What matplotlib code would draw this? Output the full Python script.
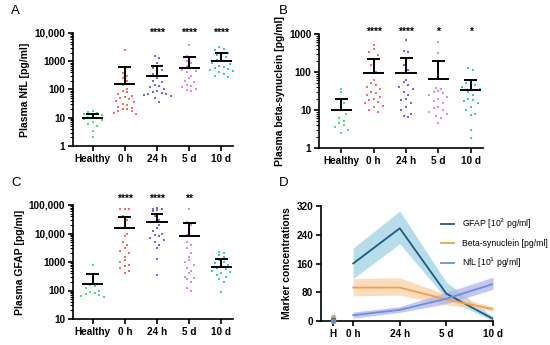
import numpy as np
import matplotlib.pyplot as plt
from matplotlib.ticker import LogLocator, FuncFormatter, NullFormatter

plt.rcParams['font.family'] = ['Liberation Sans', 'DejaVu Sans']

# === Data ===
groups = ["Healthy", "0 h", "24 h", "5 d", "10 d"]
colors = ["#3dd67a", "#f0605e", "#5b5bd6", "#d47ee0", "#2cbfc3"]

nfl_vals = [
    [17, 16, 15, 14, 13, 12, 11, 10, 9, 8, 7, 6, 5, 3.5, 2],
    [2500, 380, 300, 250, 200, 150, 100, 90, 80, 70, 60, 55, 50, 45, 40,
     35, 30, 28, 25, 22, 20, 20, 18, 17, 15, 14],
    [1500, 1300, 900, 700, 600, 500, 400, 350, 300, 250, 200, 180, 150, 130,
     120, 100, 90, 80, 75, 70, 70, 65, 60, 50, 35],
    [3800, 1500, 1400, 1000, 900, 700, 600, 500, 450, 400, 300, 250, 200,
     180, 150, 130, 120, 100, 95, 90],
    [3300, 2800, 2500, 2000, 1800, 1600, 1400, 1200, 1100, 1000, 900, 800,
     700, 650, 600, 550, 500, 450, 400, 350, 300, 280],
]
nfl_mean = [10, 160, 310, 600, 1050]
nfl_upper = [14, 620, 700, 1400, 1900]
nfl_stars = ["", "", "****", "****", "****"]

bsyn_vals = [
    [35, 30, 20, 15, 12, 10, 8, 6, 5, 4.5, 4, 3.5, 3, 2.5],
    [500, 400, 330, 280, 200, 150, 100, 60, 50, 45, 40, 35, 30, 28, 25, 22,
     20, 18, 16, 15, 13, 12, 10, 9],
    [680, 360, 340, 200, 150, 110, 60, 55, 45, 40, 35, 30, 25, 20, 18, 15,
     12, 10, 8, 7, 6.5],
    [600, 310, 38, 35, 32, 30, 28, 25, 22, 20, 17, 15, 12, 11, 10, 9, 8, 7,
     6, 4.5],
    [130, 110, 60, 55, 50, 45, 40, 35, 30, 25, 20, 18, 17, 15, 12, 10, 8,
     7.5, 3, 1.8],
]
bsyn_mean = [10, 93, 95, 65, 33]
bsyn_upper = [20, 220, 240, 200, 62]
bsyn_stars = ["", "****", "****", "*", "*"]

gfap_vals = [
    [800, 150, 140, 120, 100, 90, 80, 75, 70, 65, 60],
    [75000, 75000, 70000, 40000, 30000, 20000, 15000, 10000, 8000, 5000,
     4000, 3000, 2500, 2000, 1500, 1200, 1000, 800, 700, 600, 500, 400],
    [80000, 75000, 70000, 65000, 60000, 50000, 40000, 30000, 25000, 20000,
     15000, 12000, 10000, 9000, 8000, 7000, 6000, 5000, 4000, 3000, 1300, 350],
    [75000, 25000, 20000, 9000, 8000, 5000, 4000, 3000, 2000, 1500, 1200,
     1000, 800, 600, 500, 400, 300, 280, 250, 200, 120, 100],
    [2200, 2000, 1800, 1500, 1200, 1000, 900, 800, 700, 600, 550, 500, 450,
     400, 350, 300, 250, 200, 90],
]
gfap_mean = [170, 15000, 25000, 8000, 650]
gfap_upper = [370, 38000, 50000, 24000, 1250]
gfap_stars = ["", "****", "****", "**", ""]

# panel D: time course (scaled units)
time_labels = ["0 h", "24 h", "5 d", "10 d"]
d_gfap = [160, 258, 76, 6]
d_gfap_lo = [118, 215, 62, 0]
d_gfap_hi = [203, 306, 108, 12]
d_bsyn = [93, 93, 60, 33]
d_bsyn_lo = [70, 72, 45, 28]
d_bsyn_hi = [118, 120, 74, 40]
d_nfl = [16, 31, 62, 103]
d_nfl_lo = [8, 24, 48, 88]
d_nfl_hi = [25, 40, 80, 122]
healthy_d = {"gfap": 1.7, "bsyn": 10, "nfl": 1.0}


def swarm(vals, step=0.14, binw=0.22):
    # simple beeswarm: points in the same log-bin are spread centre-out
    lv = np.log10(vals)
    bins = np.floor(lv / binw)
    offs = np.zeros(len(vals))
    for b in np.unique(bins):
        idx = np.where(bins == b)[0]
        n = len(idx)
        slots = np.arange(n) - (n - 1) / 2
        order = np.argsort(np.abs(slots) + 0.01 * slots)
        offs[idx] = slots[order] * step
    return offs


def fmt(v, pos):
    if v >= 10000:
        return f"{int(v):,}"
    return f"{int(round(v))}"


def px_axes(fig, left, right, top, bottom, W=550, H=345):
    return fig.add_axes([left / W, 1 - bottom / H, (right - left) / W, (bottom - top) / H])


def style(ax):
    for s in ["top", "right"]:
        ax.spines[s].set_visible(False)
    for s in ["left", "bottom"]:
        ax.spines[s].set_linewidth(1.2)
    ax.tick_params(axis="both", which="major", width=1.2, length=3.5, labelsize=7.2, pad=2)
    ax.tick_params(axis="y", which="minor", width=0.8, length=2)
    for lab in ax.get_xticklabels() + ax.get_yticklabels():
        lab.set_fontweight("bold")


def dot_panel(ax, vals, means, uppers, stars, ylim, ylabel, star_y, xlim):
    for i, v in enumerate(vals):
        x = i + swarm(v)
        ax.scatter(x, v, s=3.2, color=colors[i], marker="s", linewidths=0, alpha=0.9, zorder=2)
        ax.plot([i - 0.3, i + 0.3], [means[i], means[i]], color="black", lw=1.4, zorder=3)
        ax.plot([i, i], [means[i], uppers[i]], color="black", lw=1.4, zorder=3)
        ax.plot([i - 0.17, i + 0.17], [uppers[i], uppers[i]], color="black", lw=1.4, zorder=3)
        if stars[i]:
            ax.text(i, star_y, stars[i], ha="center", va="center", fontsize=7.5,
                    fontweight="bold", clip_on=False)
    ax.set_yscale("log")
    ax.set_ylim(*ylim)
    ax.set_xlim(*xlim)
    ax.yaxis.set_major_locator(LogLocator(base=10, numticks=10))
    ax.yaxis.set_minor_locator(LogLocator(base=10, subs=np.arange(2, 10), numticks=10))
    ax.yaxis.set_major_formatter(FuncFormatter(fmt))
    ax.yaxis.set_minor_formatter(NullFormatter())
    ax.set_xticks(range(len(groups)))
    ax.set_xticklabels(groups)
    ax.set_ylabel(ylabel, fontsize=7.5, fontweight="bold", labelpad=3)
    style(ax)


fig = plt.figure(figsize=(5.5, 3.45), dpi=100)

axA = px_axes(fig, 73, 233, 33, 146)
dot_panel(axA, nfl_vals, nfl_mean, nfl_upper, nfl_stars, (1, 10000),
          "Plasma NfL [pg/ml]", 10000, (-0.61, 4.36))

axB = px_axes(fig, 319, 483, 34, 148)
dot_panel(axB, bsyn_vals, bsyn_mean, bsyn_upper, bsyn_stars, (1, 1000),
          "Plasma beta-synuclein [pg/ml]", 1150, (-0.69, 4.38))

axC = px_axes(fig, 73, 233, 205, 319)
dot_panel(axC, gfap_vals, gfap_mean, gfap_upper, gfap_stars, (10, 100000),
          "Plasma GFAP [pg/ml]", 170000, (-0.61, 4.36))

# === Panel D ===
axD = px_axes(fig, 321, 493, 206, 321)
tx = np.arange(len(time_labels))
axD.fill_between(tx, d_gfap_lo, d_gfap_hi, color="#a9d7e6", alpha=0.85, lw=0, zorder=1)
axD.fill_between(tx, d_bsyn_lo, d_bsyn_hi, color="#fbd1a6", alpha=0.75, lw=0, zorder=1)
axD.fill_between(tx, d_nfl_lo, d_nfl_hi, color="#aeb6ee", alpha=0.75, lw=0, zorder=1)
axD.plot(tx, d_gfap, color="#1d5a82", lw=1.3, label="GFAP [10$^2$ pg/ml]", zorder=3)
axD.plot(tx, d_bsyn, color="#f0a04b", lw=1.3, label="Beta-synuclein [pg/ml]", zorder=3)
axD.plot(tx, d_nfl, color="#6e8fd8", lw=1.3, label="NfL [10$^1$ pg/ml]", zorder=3)
hx = -0.43
axD.plot([hx], [healthy_d["bsyn"]], "o", color="#f0a04b", ms=3, zorder=4, clip_on=False)
axD.plot([hx], [healthy_d["gfap"]], "o", color="#1d5a82", ms=3, zorder=4, clip_on=False)
axD.plot([hx], [healthy_d["nfl"]], "o", color="#6e8fd8", ms=3, zorder=4, clip_on=False)
axD.set_xlim(-0.69, 3.0)
axD.set_ylim(0, 320)
axD.set_yticks([0, 80, 160, 240, 320])
axD.set_xticks([hx] + list(tx))
axD.set_xticklabels(["H"] + time_labels)
axD.set_ylabel("Marker concentrations", fontsize=7.5, fontweight="bold", labelpad=3)
style(axD)
axD.legend(loc="upper left", bbox_to_anchor=(437 / 550, 1 - 212 / 345),
           bbox_transform=fig.transFigure, frameon=False, fontsize=6.2,
           handlelength=1.5, labelspacing=0.95, handletextpad=0.9, borderpad=0)

# panel letters
for lab, x, y in [("A", 11, 11), ("B", 279, 11), ("C", 11, 183), ("D", 279, 183)]:
    fig.text(x / 550, 1 - y / 345, lab, fontsize=9.5, ha="left", va="center")

fig.savefig("out.png", dpi=100)
